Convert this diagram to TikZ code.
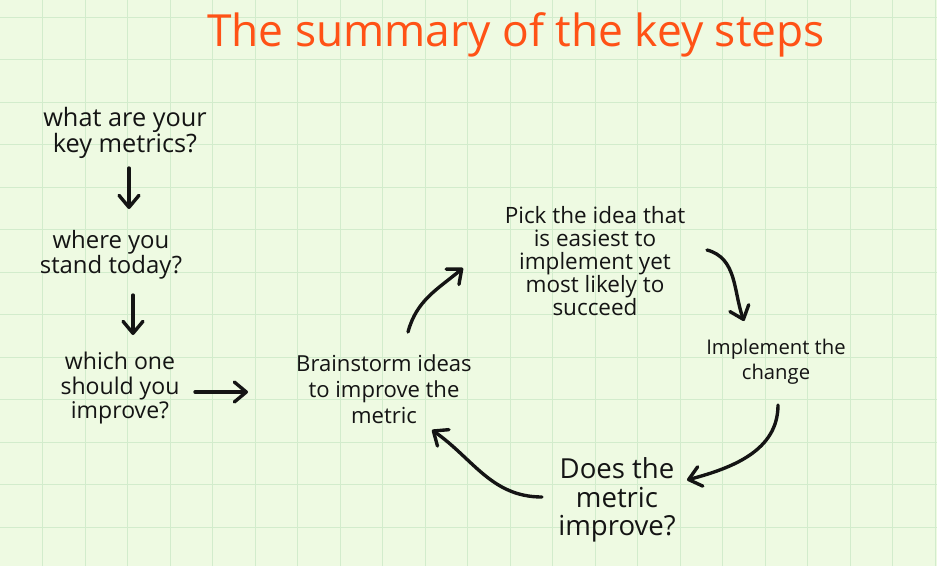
\documentclass[tikz,border=0pt]{standalone}
\usepackage{fontspec}
\setmainfont{Open Sans}
\usetikzlibrary{arrows.meta}
\definecolor{paper}{RGB}{238,250,226}
\definecolor{gridline}{RGB}{210,236,204}
\definecolor{titlecol}{RGB}{255,82,22}
\definecolor{ink}{RGB}{20,20,20}
\newcommand{\setfs}[2]{\fontsize{#1}{#2}\selectfont}

\begin{document}
\begin{tikzpicture}[
        x=0.025cm, y=-0.025cm,
        note/.style={align=center, inner sep=0pt, text=ink},
        arrow/.style={-{Straight Barb[length=3mm,width=5mm,round]}, line width=2.4pt, line cap=round, draw=ink}
      ]
        % squared paper
        \fill[paper] (0,0) rectangle (937,566);
        \useasboundingbox (0,0) rectangle (937,566);
        \foreach \i in {1,...,22}
          \draw[gridline, line width=0.6pt] (42.5*\i,0) -- (42.5*\i,566);
        \foreach \j in {0,...,12}
          \draw[gridline, line width=0.6pt] (0,17+42.5*\j) -- (937,17+42.5*\j);

        \node[note, text=titlecol, font={\setfs{31.5}{36}}] (title) at (516,35) {The summary of the key steps};

        % left column
        \node[note, font={\setfs{18}{19}}] (metrics) at (125,133) {what are your\\key metrics?};
        \node[note, font={\setfs{17}{18}}] (stand) at (111,255) {where you\\stand today?};
        \node[note, font={\setfs{16.4}{17.4}}] (improve) at (120,388) {which one\\should you\\improve?};

        % loop
        \node[note, font={\setfs{15.7}{18.4}}] (ideas) at (384,389) {Brainstorm ideas\\to improve the\\metric};
        \node[note, font={\setfs{16}{16.5}}] (pick) at (595,261) {Pick the idea that\\is easiest to\\implement yet\\most likely to\\succeed};
        \node[note, font={\setfs{14.4}{17.7}}] (change) at (776,362) {Implement the\\change};
        \node[note, font={\setfs{19.6}{20.5}}] (verify) at (617,500) {Does the\\metric\\improve?};

        \draw[arrow] ([shift={(4,35)}]metrics.center) -- ([shift={(18,-46)}]stand.center);
        \draw[arrow] ([shift={(22,40)}]stand.center) -- ([shift={(13,-53)}]improve.center);
        \draw[arrow] ([shift={(75,4)}]improve.center) -- ([shift={(-136,3)}]ideas.center);
        \draw[arrow] ([shift={(24,-57)}]ideas.center) to[out=75, in=220] ([shift={(-132,7)}]pick.center);
        \draw[arrow] ([shift={(112,-11)}]pick.center) to[out=-15, in=110] ([shift={(-32,-41)}]change.center);
        \draw[arrow] ([shift={(2,43)}]change.center) to[out=-90, in=15] ([shift={(70,-20)}]verify.center);
        \draw[arrow] ([shift={(-75,-3)}]verify.center) to[out=180, in=-35] ([shift={(48,41)}]ideas.center);
      \end{tikzpicture}
\end{document}
